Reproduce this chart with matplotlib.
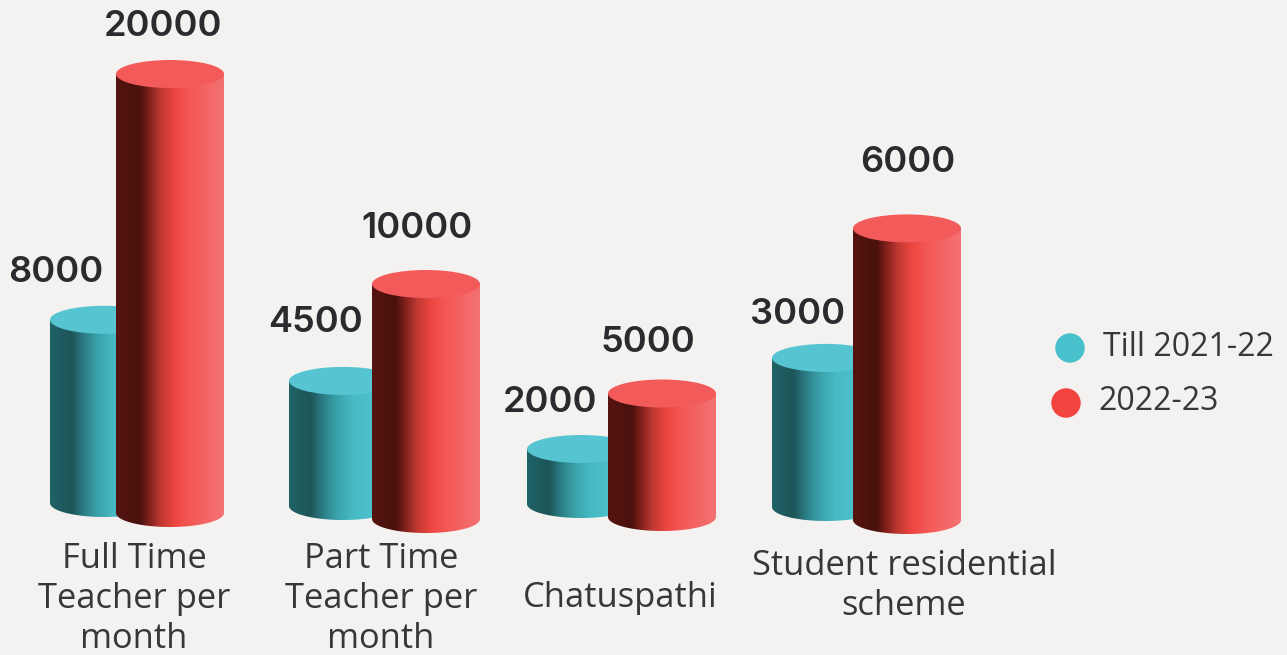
import matplotlib

matplotlib.use("Agg")
import matplotlib.pyplot as plt
import numpy as np
from matplotlib.colors import LinearSegmentedColormap
from matplotlib.patches import Ellipse, PathPatch
from matplotlib.path import Path

# data
categories = ["Full Time\nTeacher per\nmonth", "Part Time\nTeacher per\nmonth", "Chatuspathi", "Student residential\nscheme"]
series_names = ["Till 2021-22", "2022-23"]
till_2021_22 = [8000, 4500, 2000, 3000]
year_2022_23 = [20000, 10000, 5000, 6000]

# the source is a hand made infographic, every cylinder has its own scale (px per unit)
teal_scale = [0.0229, 0.0278, 0.0275, 0.0497]
red_scale = [0.02195, 0.0235, 0.0247, 0.0486]

# layout in pixels
teal_left = [50, 289, 527, 772]
teal_base = [503, 506, 504, 507]
red_left = [116, 372, 608, 853]
red_base = [513, 519, 517, 520]
cyl_w = 108
cyl_h = 28  # height of the ellipse

teal_label_xy = [(56, 273), (315, 322), (550, 402), (798, 315)]
red_label_xy = [(163, 26), (417, 229), (648, 343), (908, 163)]
cat_xy = [(134, 599), (381, 599), (620, 598), (904, 586)]

bg = "#f4f2f0"
text_col = "#2b2b2f"
label_col = "#37373b"

teal_cmap = LinearSegmentedColormap.from_list("teal", [
    (0.0, "#1f6367"), (0.2, "#1d5559"), (0.32, "#2d8087"), (0.45, "#3ba3ab"),
    (0.6, "#47bbc5"), (1.0, "#55c6d3")])
red_cmap = LinearSegmentedColormap.from_list("red", [
    (0.0, "#55140f"), (0.22, "#4a110d"), (0.3, "#7d1f1a"), (0.42, "#c23a33"),
    (0.55, "#ef4640"), (0.7, "#f35a58"), (1.0, "#f47273")])
grad = np.linspace(0, 1, 256).reshape(1, -1)


def cylinder(ax, left, base, value, scale, cmap, top_col, z):
    top = base - value * scale
    right = left + cyl_w
    theta = np.linspace(np.pi, 0, 60)
    arc_x = left + cyl_w / 2 + cyl_w / 2 * np.cos(theta)
    arc_y = base + cyl_h / 2 * np.sin(theta)
    verts = [(left, top)] + list(zip(arc_x, arc_y)) + [(right, top), (left, top)]
    codes = [Path.MOVETO] + [Path.LINETO] * (len(verts) - 2) + [Path.CLOSEPOLY]
    body = PathPatch(Path(verts, codes), fc="none", ec="none", zorder=z)
    ax.add_patch(body)
    im = ax.imshow(grad, cmap=cmap, extent=(left, right, base + cyl_h, top), aspect="auto", zorder=z)
    im.set_clip_path(body)
    ax.add_patch(Ellipse((left + cyl_w / 2, top), cyl_w, cyl_h, fc=top_col, ec="none", zorder=z + 0.1))


plt.rcParams["font.family"] = ["Inter", "Open Sans", "DejaVu Sans"]
fig = plt.figure(figsize=(12.87, 6.55), dpi=100, facecolor=bg)
ax = fig.add_axes([0, 0, 1, 1])
ax.set_facecolor(bg)

for i in range(len(categories)):
    cylinder(ax, teal_left[i], teal_base[i], till_2021_22[i], teal_scale[i], teal_cmap, "#56c5d1", 2 + i)
    cylinder(ax, red_left[i], red_base[i], year_2022_23[i], red_scale[i], red_cmap, "#f25b5a", 2.5 + i)
    ax.text(teal_label_xy[i][0], teal_label_xy[i][1], str(till_2021_22[i]), ha="center", va="center",
            fontsize=26, fontweight="semibold", color=text_col, zorder=10)
    ax.text(red_label_xy[i][0], red_label_xy[i][1], str(year_2022_23[i]), ha="center", va="center",
            fontsize=26, fontweight="semibold", color=text_col, zorder=10)
    ax.text(cat_xy[i][0], cat_xy[i][1], categories[i], ha="center", va="center", family="Open Sans",
            fontsize=24.8, linespacing=1.25, color=label_col, zorder=10)

# legend
ax.scatter([1070, 1066], [348, 403], s=[450, 450], c=["#49c1cd", "#f1443f"], linewidths=0, zorder=10)
ax.text(1103, 347, series_names[0], ha="left", va="center", family="Open Sans", fontsize=23, color=label_col)
ax.text(1098, 402, series_names[1], ha="left", va="center", family="Open Sans", fontsize=23, color=label_col)

ax.set_xlim(0, 1287)
ax.set_ylim(655, 0)
ax.axis("off")

plt.savefig("out.png", dpi=100, facecolor=bg)
